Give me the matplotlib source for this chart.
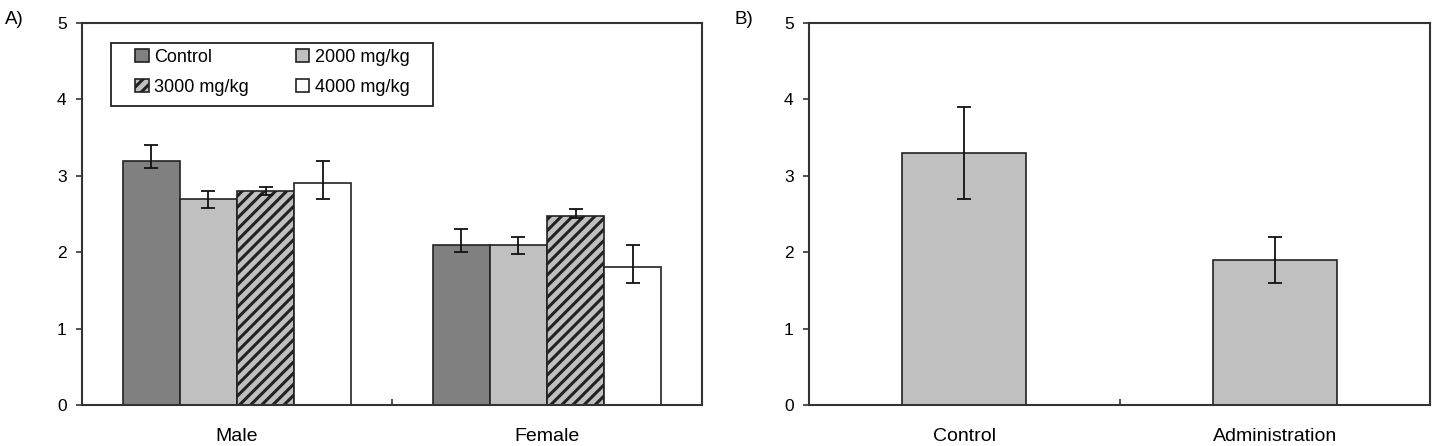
import matplotlib
matplotlib.use("Agg")
import matplotlib.pyplot as plt
from matplotlib.patches import Rectangle
import numpy as np

plt.rcParams['font.family'] = ['Liberation Sans', 'DejaVu Sans']
plt.rcParams['hatch.linewidth'] = 2.2

# ---- Data ----
groups_a = ["Male", "Female"]
series_a = ["Control", "2000 mg/kg", "3000 mg/kg", "4000 mg/kg"]
means_a = {
    "Control":    [3.2, 2.1],
    "2000 mg/kg": [2.7, 2.1],
    "3000 mg/kg": [2.8, 2.48],
    "4000 mg/kg": [2.9, 1.8],
}
upper_a = {
    "Control":    [3.4, 2.3],
    "2000 mg/kg": [2.8, 2.2],
    "3000 mg/kg": [2.85, 2.56],
    "4000 mg/kg": [3.2, 2.1],
}
lower_a = {
    "Control":    [3.1, 2.0],
    "2000 mg/kg": [2.58, 1.97],
    "3000 mg/kg": [2.75, 2.45],
    "4000 mg/kg": [2.7, 1.6],
}
groups_b = ["Control", "Administration"]
means_b = [3.3, 1.9]
err_b = [0.6, 0.3]
yticks = [0, 1, 2, 3, 4, 5]

# ---- Styles ----
styles = {
    "Control":    dict(color="#808080", hatch=None),
    "2000 mg/kg": dict(color="#c0c0c0", hatch=None),
    "3000 mg/kg": dict(color="#c0c0c0", hatch="///"),
    "4000 mg/kg": dict(color="#ffffff", hatch=None),
}

W, H = 1451, 446
fig = plt.figure(figsize=(W / 100, H / 100), dpi=100)

def px_axes(l, r, t, b):
    return fig.add_axes([l / W, 1 - b / H, (r - l) / W, (b - t) / H])

axA = px_axes(82, 702, 23, 405)
axB = px_axes(809, 1430, 23, 405)

def style_axis(ax, labels):
    ax.set_ylim(0, 5)
    ax.set_xlim(0, len(labels))
    ax.set_yticks(yticks)
    ax.set_xticks(np.arange(len(labels)) + 0.5)
    ax.set_xticklabels(labels)
    ax.set_xticks(np.arange(1, len(labels)), minor=True)
    ax.tick_params(axis='x', which='major', length=0, pad=16.5, labelsize=14)
    ax.tick_params(axis='x', which='minor', direction='in', length=4, width=1.2, color='#333333')
    ax.tick_params(axis='y', which='major', direction='out', length=4, width=1.2,
                   pad=7, labelsize=12.5, color='#333333')
    for s in ax.spines.values():
        s.set_linewidth(1.5)
        s.set_color('#333333')

# Panel A
x = np.arange(len(groups_a)) + 0.5
bw = 0.184
handles = {}
for i, name in enumerate(series_a):
    pos = x + (i - 1.5) * bw
    m = np.array(means_a[name])
    err = np.vstack([m - np.array(lower_a[name]), np.array(upper_a[name]) - m])
    st = styles[name]
    h = axA.bar(pos, m, width=bw, color=st["color"], edgecolor="#222222",
                linewidth=1.2, hatch=st["hatch"], label=name, zorder=2)
    handles[name] = h
    axA.errorbar(pos, m, yerr=err, fmt='none', ecolor='#111111', elinewidth=1.3,
                 capsize=5, capthick=1.3, zorder=3)
style_axis(axA, groups_a)

# legend frame (drawn as a box) and entries (row-major order)
axA.add_patch(Rectangle((0.0468, 0.7827), 0.566 - 0.0468, 0.9476 - 0.7827,
                        transform=axA.transAxes, fill=True, facecolor='white',
                        edgecolor='#222222', linewidth=1.3, zorder=4))
order = ["Control", "3000 mg/kg", "2000 mg/kg", "4000 mg/kg"]
leg = axA.legend([handles[n] for n in order], order, loc='upper left',
                 bbox_to_anchor=(0.0855, 0.932), borderaxespad=0, borderpad=0,
                 ncol=2, frameon=False, fontsize=13,
                 handlelength=0.75, handleheight=0.75, handletextpad=0.3,
                 columnspacing=2.6, labelspacing=0.7)
leg.set_zorder(5)

# Panel B
xb = np.arange(len(groups_b)) + 0.5
axB.bar(xb, means_b, width=0.40, color="#c0c0c0", edgecolor="#222222", linewidth=1.2, zorder=2)
axB.errorbar(xb, means_b, yerr=err_b, fmt='none', ecolor='#111111', elinewidth=1.3,
             capsize=5, capthick=1.3, zorder=3)
style_axis(axB, groups_b)

fig.text(5 / W, 1 - 20 / H, "A)", fontsize=13.5, va='center', ha='left')
fig.text(735 / W, 1 - 20 / H, "B)", fontsize=13.5, va='center', ha='left')

fig.savefig("out.png", dpi=100)
